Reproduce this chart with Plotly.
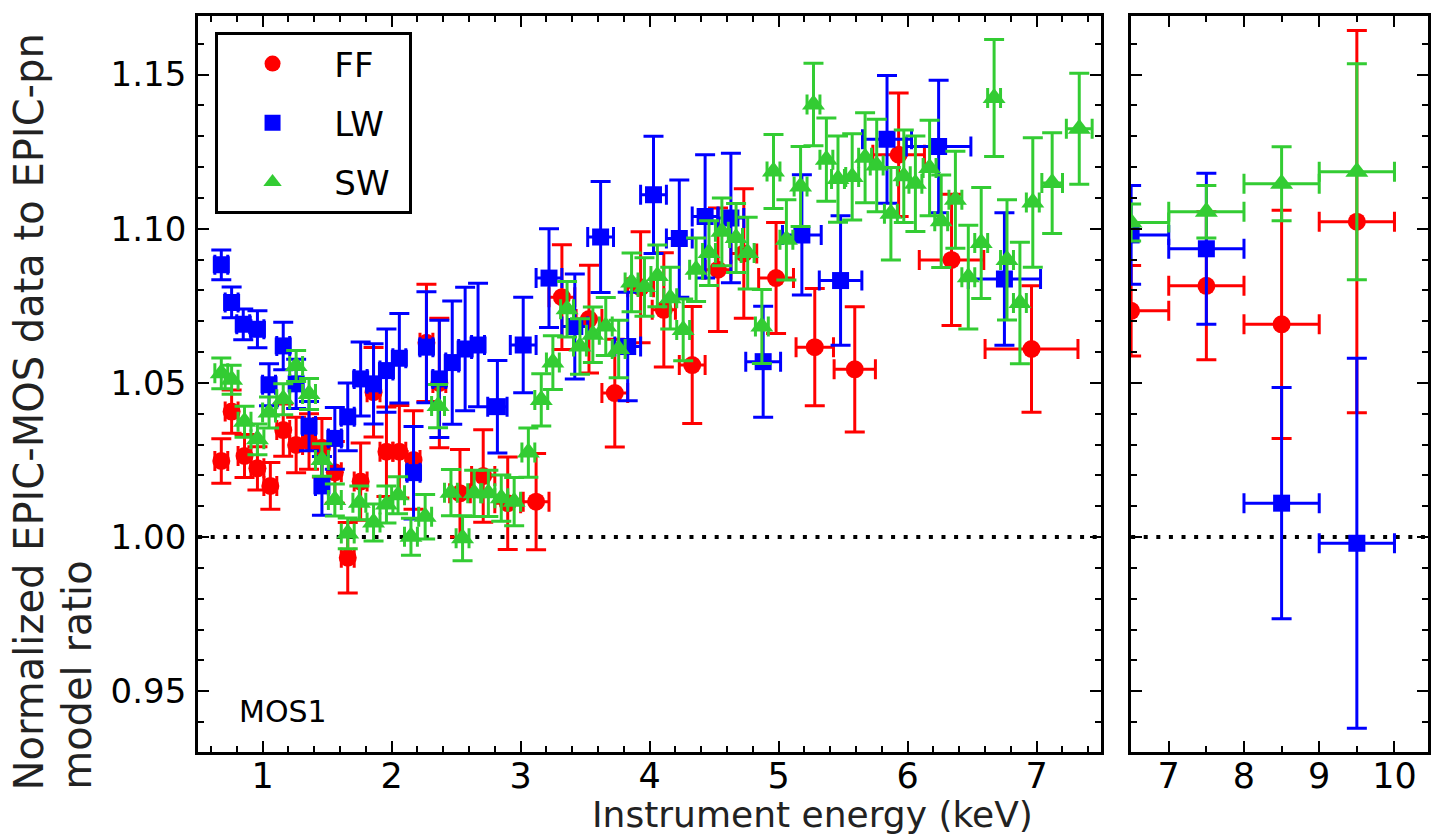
import plotly.graph_objects as go

# ---------------- data ----------------
ff_e = [0.68, 0.76, 0.86, 0.96, 1.06, 1.16, 1.26, 1.36, 1.46, 1.56, 1.66, 1.76, 1.86, 1.96, 2.06, 2.17, 2.27, 2.37,
        2.53, 2.71, 2.90, 3.12, 3.32, 3.53, 3.73, 3.93, 4.11, 4.33, 4.53, 4.73, 4.98, 5.28, 5.59, 5.93, 6.34, 6.96]
ff_r = [1.0247, 1.0407, 1.0263, 1.0223, 1.0166, 1.0347, 1.0299, 1.031, 1.029, 1.021, 0.9933, 1.018, 1.047, 1.0277,
        1.0277, 1.025, 1.063, 1.050, 1.0142, 1.0198, 1.011, 1.0115, 1.0778, 1.0707, 1.0467, 1.081, 1.0737, 1.0558,
        1.0867, 1.092, 1.084, 1.0616, 1.0544, 1.124, 1.0899, 1.061]
ff_err = [0.0072, 0.007, 0.007, 0.007, 0.0076, 0.0085, 0.009, 0.009, 0.0095, 0.010, 0.0114, 0.0125, 0.0145, 0.0145,
          0.015, 0.016, 0.019, 0.021, 0.0142, 0.015, 0.015, 0.0156, 0.017, 0.0175, 0.0175, 0.018, 0.0185, 0.019,
          0.020, 0.021, 0.018, 0.019, 0.0203, 0.020, 0.0213, 0.0205]
ff_xerr = [0.05] * 18 + [0.08, 0.09, 0.1, 0.1, 0.1, 0.1, 0.1, 0.1, 0.09, 0.1, 0.1, 0.1, 0.135, 0.145, 0.16, 0.2,
                         0.25, 0.36]

lw_e = [0.68, 0.76, 0.85, 0.96, 1.05, 1.16, 1.26, 1.36, 1.46, 1.56, 1.66, 1.76, 1.86, 1.96, 2.06, 2.17, 2.27, 2.37,
        2.47, 2.57, 2.67, 2.82, 3.02, 3.22, 3.42, 3.62, 3.83, 4.03, 4.23, 4.43, 4.63, 4.88, 5.18, 5.48, 5.84, 6.24, 6.75]
lw_r = [1.0883, 1.0761, 1.069, 1.0674, 1.0494, 1.062, 1.0497, 1.036, 1.0166, 1.032, 1.039, 1.0513, 1.0497, 1.054,
        1.058, 1.0209, 1.0616, 1.0513, 1.0566, 1.061, 1.0623, 1.0423, 1.0623, 1.084, 1.0683, 1.0973, 1.0618, 1.111,
        1.0968, 1.104, 1.1035, 1.0569, 1.098, 1.0832, 1.129, 1.1267, 1.0837]
lw_err = [0.0048, 0.005, 0.005, 0.006, 0.0068, 0.0077, 0.008, 0.008, 0.0095, 0.01, 0.011, 0.012, 0.013, 0.0135, 0.0145,
          0.015, 0.018, 0.019, 0.02, 0.02, 0.02, 0.015, 0.0155, 0.016, 0.017, 0.018, 0.0176, 0.019, 0.019, 0.02, 0.021,
          0.018, 0.0195, 0.021, 0.0207, 0.0215, 0.0215]
lw_xerr = [0.05] * 21 + [0.075, 0.1, 0.1, 0.1, 0.1, 0.1, 0.1, 0.1, 0.1, 0.1, 0.135, 0.15, 0.165, 0.19, 0.25, 0.28]

sw_e = [0.68, 0.76, 0.86, 0.96, 1.05, 1.16, 1.26, 1.36, 1.46, 1.56, 1.66, 1.75, 1.86, 1.96, 2.05, 2.15, 2.26, 2.36,
        2.46, 2.55, 2.64, 2.75, 2.85, 2.95, 3.06, 3.16, 3.25, 3.36, 3.46, 3.56, 3.66, 3.76, 3.86, 3.96, 4.06, 4.16,
        4.26, 4.36, 4.46, 4.56, 4.67, 4.76, 4.87, 4.96, 5.06, 5.17, 5.27, 5.37, 5.46, 5.57, 5.67, 5.76, 5.87, 5.97,
        6.06, 6.17, 6.26, 6.37, 6.47, 6.57, 6.67, 6.77, 6.87, 6.97, 7.12, 7.33]
sw_r = [1.0531, 1.051, 1.0374, 1.0317, 1.0404, 1.0447, 1.0555, 1.0464, 1.025, 1.012, 1.0012, 1.0111, 1.0047, 1.0106,
        1.0136, 1.0001, 1.0066, 1.0425, 1.0144, 0.9996, 1.0142, 1.0142, 1.0126, 1.0115, 1.0274, 1.0445, 1.0566, 1.0739,
        1.0618, 1.0656, 1.0683, 1.061, 1.0826, 1.0811, 1.0847, 1.0775, 1.0672, 1.0867, 1.0921, 1.099, 1.097, 1.0921,
        1.0683, 1.1186, 1.0964, 1.1137, 1.1403, 1.1224, 1.1161, 1.1168, 1.123, 1.1205, 1.1049, 1.117, 1.1146, 1.1197,
        1.1024, 1.1094, 1.0843, 1.0954, 1.1424, 1.0899, 1.0759, 1.1085, 1.1148, 1.1324]
sw_err = [0.005, 0.0047, 0.005, 0.005, 0.005, 0.005, 0.005, 0.005, 0.0053, 0.0052, 0.005, 0.0055, 0.006, 0.006, 0.006,
          0.006, 0.0072, 0.007, 0.0075, 0.0073, 0.0075, 0.0075, 0.0075, 0.0078, 0.008, 0.0085, 0.0087, 0.009, 0.009,
          0.009, 0.0094, 0.0093, 0.0095, 0.0095, 0.01, 0.01, 0.01, 0.0103, 0.0105, 0.011, 0.0112, 0.0116, 0.012,
          0.012, 0.013, 0.013, 0.0134, 0.0135, 0.014, 0.014, 0.0146, 0.015, 0.015, 0.015, 0.0155, 0.0155, 0.015,
          0.0157, 0.0168, 0.018, 0.019, 0.0195, 0.0197, 0.021, 0.0163, 0.018]
sw_xerr = [0.05] * 64 + [0.08, 0.1]

# high-energy panel (1 keV bins)
hi_e = [6.5, 7.5, 8.5, 9.5]
hi_xerr = [0.5, 0.5, 0.5, 0.5]
hi_ff_r = [1.0734, 1.0815, 1.069, 1.1023]
hi_ff_err = [0.0147, 0.024, 0.037, 0.062]
hi_lw_r = [1.098, 1.0935, 1.011, 0.998]
hi_lw_err = [0.016, 0.0245, 0.0375, 0.060]
hi_sw_r = [1.102, 1.1055, 1.1146, 1.1185]
hi_sw_err = [0.006, 0.0085, 0.012, 0.035]

series = [
    ("FF", "#ff0000", "circle", 18, ff_e, ff_r, ff_err, ff_xerr, hi_ff_r, hi_ff_err),
    ("LW", "#0000ff", "square", 17, lw_e, lw_r, lw_err, lw_xerr, hi_lw_r, hi_lw_err),
    ("SW", "#33cc33", "triangle-up", 20, sw_e, sw_r, sw_err, sw_xerr, hi_sw_r, hi_sw_err),
]

W, H = 1431, 835
TOP, BOT = 16, 752
L1, R1 = 198.5, 1103.5
L2 = 1133.5

fig = go.Figure()

for name, col, sym, size, e, r, err, xerr, hr, herr in series:
    fig.add_trace(go.Scatter(
        x=e, y=r, mode="markers", showlegend=False, xaxis="x", yaxis="y", hoverinfo="skip",
        marker=dict(symbol=sym, size=size, color=col, line=dict(width=0)),
        error_y=dict(type="data", array=err, color=col, thickness=3, width=10),
        error_x=dict(type="data", array=xerr, color=col, thickness=3, width=10)))
    fig.add_trace(go.Scatter(
        x=hi_e, y=hr, mode="markers", showlegend=False, xaxis="x2", yaxis="y2", hoverinfo="skip",
        marker=dict(symbol=sym, size=size, color=col, line=dict(width=0)),
        error_y=dict(type="data", array=herr, color=col, thickness=3, width=10),
        error_x=dict(type="data", array=hi_xerr, color=col, thickness=3, width=10)))
    # legend entry
    fig.add_trace(go.Scatter(
        x=[None], y=[None], mode="markers", name="\u2009" + name + "\u2009\u2009", legendgroup=name,
        xaxis="x", yaxis="y",
        marker=dict(symbol=sym, size=size, color=col, line=dict(width=0))))

yrange = [0.9303, 1.1690]
tickfont = dict(family="DejaVu Sans", size=35, color="black")

axis_common = dict(showline=True, linewidth=3, linecolor="black", mirror="ticks", ticks="inside",
                   ticklen=11, tickwidth=2, tickcolor="black", showgrid=False, zeroline=False)
minor_common = dict(ticks="inside", ticklen=6, tickwidth=2, tickcolor="black")

fig.update_layout(
    width=W, height=H,
    margin=dict(l=0, r=0, t=TOP, b=H - BOT, pad=0),
    paper_bgcolor="white", plot_bgcolor="white",
    font=dict(family="DejaVu Sans", color="black"),
    xaxis=dict(domain=[L1 / W, R1 / W], range=[0.5, 7.5], dtick=1, tick0=0,
               minor=dict(dtick=0.2, **minor_common),
               tickfont=tickfont, ticklabelstandoff=-9, **axis_common),
    xaxis2=dict(domain=[L2 / W, 1.0], range=[6.5, 6.5 + (W - L2) / 75.4], dtick=1, tick0=0,
                minor=dict(dtick=0.5, **minor_common),
                tickfont=tickfont, ticklabelstandoff=-9, anchor="y2", **axis_common),
    yaxis=dict(range=yrange, dtick=0.05, tick0=0, tickformat=".2f",
               minor=dict(dtick=0.01, **minor_common),
               tickfont=dict(family="DejaVu Sans", size=34, color="black"), ticklabelstandoff=2,
               **axis_common),
    yaxis2=dict(range=yrange, dtick=0.05, tick0=0, showticklabels=False, anchor="x2", matches="y",
                minor=dict(dtick=0.01, **minor_common), **axis_common),
    legend=dict(x=215 / W, y=(BOT - 32) / (BOT - TOP), xanchor="left", yanchor="top",
                bgcolor="white", bordercolor="black", borderwidth=3,
                font=dict(family="DejaVu Sans", size=34, color="black"),
                itemwidth=100, tracegroupgap=12, itemsizing="trace"),
    shapes=[
        dict(type="line", xref="x domain", yref="y", x0=0, x1=1, y0=1.0, y1=1.0,
             line=dict(color="black", width=4, dash="4px,8.6px"), layer="below"),
        dict(type="line", xref="x2 domain", yref="y2", x0=0, x1=1, y0=1.0, y1=1.0,
             line=dict(color="black", width=4, dash="4px,8.6px"), layer="below"),
    ],
    annotations=[
        dict(text="Normalized EPIC-MOS data to EPIC-pn", textangle=-90,
             xref="paper", yref="paper", x=29 / W, y=(BOT - 792) / (BOT - TOP),
             xanchor="center", yanchor="bottom", showarrow=False,
             font=dict(family="DejaVu Sans", size=40, color="#222222")),
        dict(text="model ratio", textangle=-90,
             xref="paper", yref="paper", x=77 / W, y=(BOT - 792) / (BOT - TOP),
             xanchor="center", yanchor="bottom", showarrow=False,
             font=dict(family="DejaVu Sans", size=40, color="#222222")),
        dict(text="Instrument energy (keV)", xref="paper", yref="paper",
             x=813.9 / W, y=(BOT - 814) / (BOT - TOP), xanchor="center", yanchor="middle", showarrow=False,
             font=dict(family="DejaVu Sans", size=36, color="#222222")),
        dict(text="MOS1", xref="x domain", yref="y domain", x=(237 - L1) / (R1 - L1),
             y=(BOT - 711) / (BOT - TOP), xanchor="left", yanchor="middle", showarrow=False,
             font=dict(family="DejaVu Sans", size=30, color="black")),
    ],
)

fig.write_html("out.html", config={"displayModeBar": False, "staticPlot": True},
               post_script="document.body.style.margin='0';document.body.style.padding='0';")
